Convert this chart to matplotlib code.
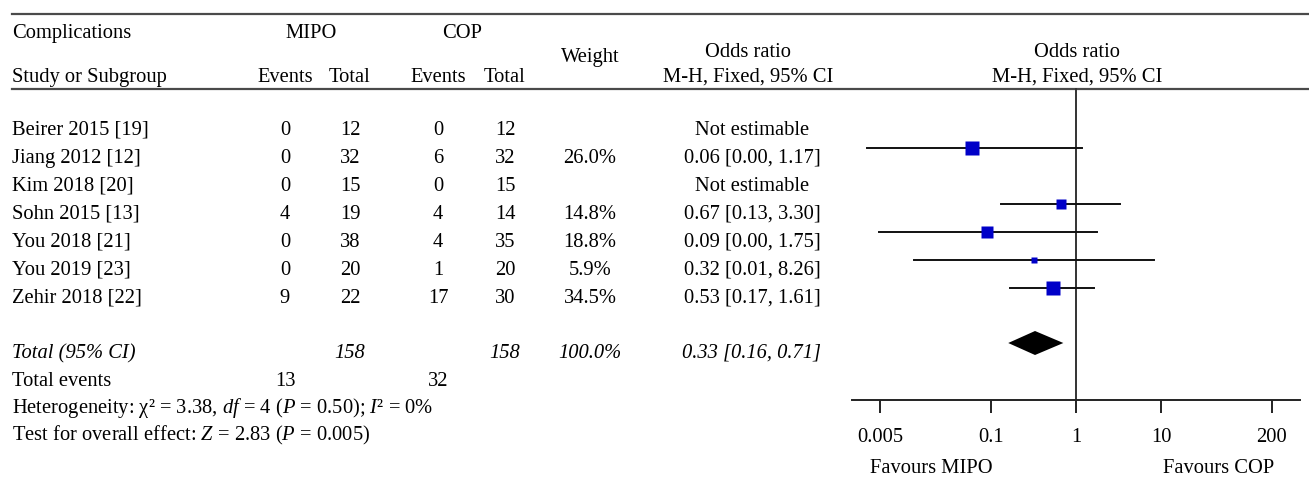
import numpy as np
import matplotlib
matplotlib.use("Agg")
import matplotlib.pyplot as plt

# ---- data ----
studies = ["Beirer 2015 [19]", "Jiang 2012 [12]", "Kim 2018 [20]", "Sohn 2015 [13]",
           "You 2018 [21]", "You 2019 [23]", "Zehir 2018 [22]"]
mipo_events = [0, 0, 0, 4, 0, 0, 9]
mipo_total = [12, 32, 15, 19, 38, 20, 22]
cop_events = [0, 6, 0, 4, 4, 1, 17]
cop_total = [12, 32, 15, 14, 35, 20, 30]
weights = [None, 26.0, None, 14.8, 18.8, 5.9, 34.5]
odds = [None, 0.06, None, 0.67, 0.09, 0.32, 0.53]
ci_low = [None, 0.0035, None, 0.13, 0.0048, 0.0124, 0.17]
ci_high = [None, 1.17, None, 3.30, 1.75, 8.26, 1.61]
or_labels = ["Not estimable", "0.06 [0.00, 1.17]", "Not estimable", "0.67 [0.13, 3.30]",
             "0.09 [0.00, 1.75]", "0.32 [0.01, 8.26]", "0.53 [0.17, 1.61]"]

total_mipo = 158
total_cop = 158
total_events_mipo = 13
total_events_cop = 32
pooled_or = 0.33
pooled_low = 0.16
pooled_high = 0.71

xticks = [0.005, 0.1, 1, 10, 200]
xtick_labels = ["0.005", "0.1", "1", "10", "200"]
x_range = (0.00234, 427)

plt.rcParams["font.family"] = ["Liberation Serif", "DejaVu Serif"]
plt.rcParams["mathtext.fontset"] = "custom"
plt.rcParams["mathtext.rm"] = "Liberation Serif"
plt.rcParams["mathtext.it"] = "Liberation Serif:italic"

FS = 14.8
LINE_COL = "#4a4a4a"
BLUE = "#0000c8"

W, H = 1309, 481
fig = plt.figure(figsize=(W / 100, H / 100), dpi=100)

# table area in pixel coordinates
tab = fig.add_axes([0, 0, 1, 1])
tab.set_xlim(0, W)
tab.set_ylim(H, 0)
tab.axis("off")

# horizontal rules
tab.plot([12, W], [15, 15], color=LINE_COL, lw=1.6)
tab.plot([12, W], [90, 90], color=LINE_COL, lw=1.6)

# column centres
x_name = 12
x_me, x_mt, x_ce, x_ct, x_w, x_or = 285, 350, 438, 505, 590, 752

# header
tab.text(x_name, 38, "Complications", fontsize=FS, va="baseline")
tab.text(311, 38, "MIPO", fontsize=FS, va="baseline", ha="center")
tab.text(462, 38, "COP", fontsize=FS, va="baseline", ha="center")
tab.text(x_name, 82, "Study or Subgroup", fontsize=FS, va="baseline")
for x, s in [(x_me, "Events"), (x_mt, "Total"), (x_ce, "Events"), (x_ct, "Total")]:
    tab.text(x, 82, s, fontsize=FS, va="baseline", ha="center")
tab.text(x_w, 62, "Weight", fontsize=FS, va="baseline", ha="center")
tab.text(748, 57, "Odds ratio", fontsize=FS, va="baseline", ha="center")
tab.text(748, 82, "M-H, Fixed, 95% CI", fontsize=FS, va="baseline", ha="center")
tab.text(1077, 57, "Odds ratio", fontsize=FS, va="baseline", ha="center")
tab.text(1077, 82, "M-H, Fixed, 95% CI", fontsize=FS, va="baseline", ha="center")

row_y = [121 + 28 * i for i in range(len(studies))]
for i, name in enumerate(studies):
    yb = row_y[i] + 14
    tab.text(x_name, yb, name, fontsize=FS, va="baseline")
    tab.text(x_me, yb, str(mipo_events[i]), fontsize=FS, va="baseline", ha="center")
    tab.text(x_mt, yb, str(mipo_total[i]), fontsize=FS, va="baseline", ha="center")
    tab.text(x_ce, yb, str(cop_events[i]), fontsize=FS, va="baseline", ha="center")
    tab.text(x_ct, yb, str(cop_total[i]), fontsize=FS, va="baseline", ha="center")
    if weights[i] is not None:
        tab.text(x_w, yb, f"{weights[i]:.1f}%", fontsize=FS, va="baseline", ha="center")
    tab.text(x_or, yb, or_labels[i], fontsize=FS, va="baseline", ha="center")

y_total = 344
tb = y_total + 14
tab.text(x_name, tb, "Total (95% CI)", fontsize=FS, va="baseline", style="italic")
tab.text(x_mt, tb, str(total_mipo), fontsize=FS, va="baseline", ha="center", style="italic")
tab.text(x_ct, tb, str(total_cop), fontsize=FS, va="baseline", ha="center", style="italic")
tab.text(x_w, tb, "100.0%", fontsize=FS, va="baseline", ha="center", style="italic")
tab.text(x_or, tb, f"{pooled_or:.2f} [{pooled_low:.2f}, {pooled_high:.2f}]",
         fontsize=FS, va="baseline", ha="center", style="italic")

tab.text(x_name, 386, "Total events", fontsize=FS, va="baseline")
tab.text(x_me, 386, str(total_events_mipo), fontsize=FS, va="baseline", ha="center")
tab.text(x_ce, 386, str(total_events_cop), fontsize=FS, va="baseline", ha="center")
tab.text(x_name, 413,
         r"Heterogeneity: χ² = 3.38, $\mathit{df}$ = 4 ($\mathit{P}$ = 0.50); $\mathit{I}$² = $\mathit{0\%}$",
         fontsize=FS, va="baseline")
tab.text(x_name, 440, r"Test for overall effect: $\mathit{Z}$ = 2.83 ($\mathit{P}$ = 0.005)",
         fontsize=FS, va="baseline")

tab.text(931, 473, "Favours MIPO", fontsize=FS, va="baseline", ha="center")
tab.text(1219, 473, "Favours COP", fontsize=FS, va="baseline", ha="center")

# forest plot area
x0, x1 = 852, 1300
ax = fig.add_axes([x0 / W, 0, (x1 - x0) / W, 1])
ax.set_xscale("log")
ax.set_xlim(*x_range)
ax.set_ylim(H, 0)
ax.patch.set_visible(False)
for s in ["top", "left", "right"]:
    ax.spines[s].set_visible(False)
ax.spines["bottom"].set_position(("data", 400.7))
ax.spines["bottom"].set_color("#222222")
ax.spines["bottom"].set_linewidth(1.4)
ax.set_yticks([])
ax.set_xticks(xticks)
ax.set_xticklabels(xtick_labels)
ax.xaxis.set_minor_locator(matplotlib.ticker.NullLocator())
ax.tick_params(axis="x", direction="out", length=9.5, width=1.4, color="#222222",
               pad=10, labelsize=FS)

ax.plot([1, 1], [90, 400.7], color="#333333", lw=1.4, zorder=1)

for i in range(len(studies)):
    if odds[i] is None:
        continue
    y = row_y[i]
    ax.plot([ci_low[i], ci_high[i]], [y, y], color="#111111", lw=1.4, zorder=2)
    side_px = 2.55 * np.sqrt(weights[i])
    ax.plot(odds[i], y, marker="s", ms=side_px * 0.72, color=BLUE, mec="none", zorder=3)

ax.fill([pooled_low, pooled_or, pooled_high, pooled_or],
        [y_total, y_total - 12, y_total, y_total + 12], color="black", lw=0, zorder=3)

fig.savefig("out.png", dpi=100)
